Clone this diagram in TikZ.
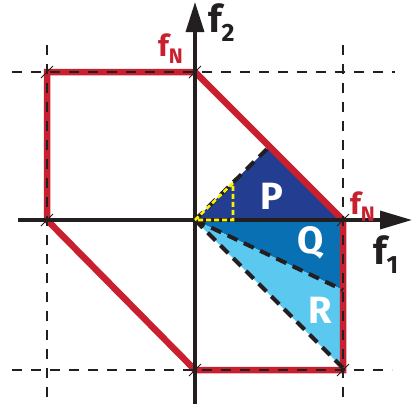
\documentclass[tikz,border=0pt]{standalone}
\usepackage{fontspec}
\setmainfont{Fira Sans}
\usetikzlibrary{arrows.meta,calc}
\definecolor{redc}{RGB}{200,32,46}
\definecolor{pblue}{RGB}{35,62,144}
\definecolor{qblue}{RGB}{10,112,180}
\definecolor{rblue}{RGB}{91,200,240}
\definecolor{ink}{RGB}{35,31,32}
\tikzset{
  grid/.style={ink, line width=1.4pt, dash pattern=on 10pt off 9pt},
  axis/.style={ink, line width=3.4pt},
  region/.style={ink, line width=4pt, dash pattern=on 11pt off 7pt},
  bound/.style={redc, line width=6.5pt, line join=miter},
  lab/.style={font=\fontsize{38}{38}\selectfont\bfseries, text=ink, inner sep=0pt},
  flab/.style={font=\fontsize{30}{30}\selectfont\bfseries, text=redc, inner sep=0pt},
  rlab/.style={font=\fontsize{38}{38}\selectfont\bfseries, text=white, inner sep=0pt},
  tick/.style={ink, line width=0.8pt}
}
\begin{document}
\begin{tikzpicture}[x=1pt,y=-1pt]
\useasboundingbox (0,0) rectangle (413,408);
% points
\coordinate (O) at (195,220);
\coordinate (TL) at (47,72);
\coordinate (T) at (195,72);
\coordinate (Rt) at (343,220);
\coordinate (BR) at (343,370);
\coordinate (B) at (195,370);
\coordinate (L) at (47,220);
\coordinate (Pp) at (268,148);
\coordinate (Qq) at (343,290);
\coordinate (Rr) at (343,368);
\coordinate (Y1) at (233,183);
\coordinate (Y2) at (233,220);
% regions
\fill[pblue] (O) -- (Pp) -- (Rt) -- cycle;
\fill[qblue] (O) -- (Rt) -- (Qq) -- cycle;
\fill[rblue] (O) -- (Qq) -- (Rr) -- cycle;
% red boundary
\draw[bound] (TL) -- (T) -- (Rt) -- (BR) -- (B) -- (L) -- cycle;
% grid lines
\draw[grid] (12,72) -- (395,72);
\draw[grid] (12,370) -- (392,370);
\draw[grid] (47,45) -- (47,400);
\draw[grid] (343,45) -- (343,398);
% axes
\draw[axis, -{Triangle[length=32pt,width=18pt]}] (18,220) -- (412,220);
\draw[axis, -{Triangle[length=30pt,width=18pt]}] (195,404) -- (195,2);
% region dashed lines
\draw[region] (O) -- (Pp);
\draw[region] (O) -- (Qq);
\draw[region] (O) -- (Rr);
\draw[yellow, line width=2.6pt, dash pattern=on 5pt off 3pt] (O) -- (Y1) -- (Y2) -- (O);
% corner ticks
\foreach \c in {T,Rt,B,L,TL,BR} \draw[tick] ($(\c)+(-6,6)$) -- ($(\c)+(6,-6)$);
% labels
\node[rlab] (lP) at (272,196) {P};
\node[rlab] (lQ) at (311,243) {Q};
\node[rlab] (lR) at (320,310) {R};
\node[flab, anchor=base west] (fN1) at (158,56) {f\raisebox{-7pt}{\fontsize{21}{21}\selectfont N}};
\node[flab, anchor=base west] (fN2) at (350,214) {f\raisebox{-7pt}{\fontsize{21}{21}\selectfont N}};
\node[lab, anchor=base west] (f2) at (208,32) {f\raisebox{-9pt}{\fontsize{25}{25}\selectfont 2}};
\node[lab, anchor=base west] (f1) at (373,264) {f\raisebox{-9pt}{\fontsize{25}{25}\selectfont 1}};
\end{tikzpicture}
\end{document}
